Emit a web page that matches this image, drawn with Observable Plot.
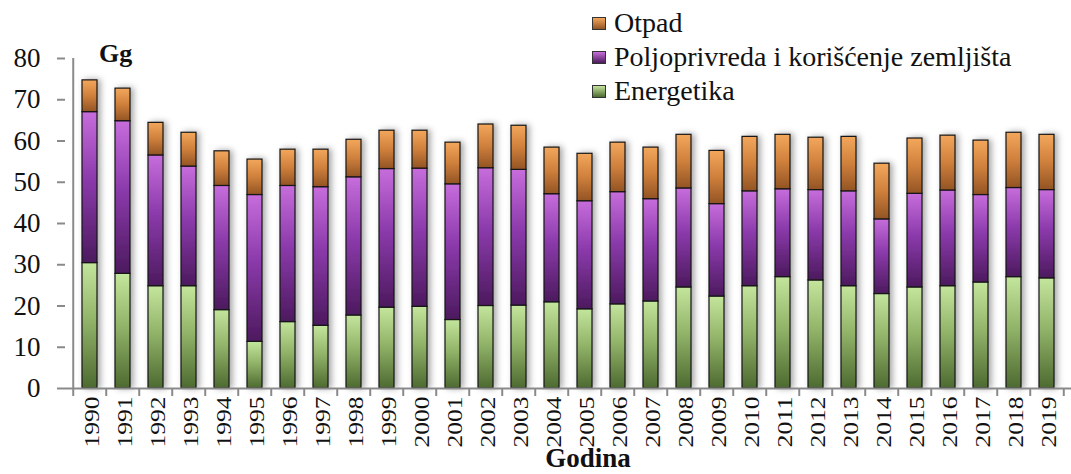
<!DOCTYPE html>
<html>
<head>
<meta charset="utf-8">
<script src="https://cdn.jsdelivr.net/npm/d3@7"></script>
<script src="https://cdn.jsdelivr.net/npm/@observablehq/plot@0.6"></script>
<style>
  html, body { margin: 0; padding: 0; background: #fff; }
  #wrap { position: relative; width: 1071px; height: 474px; font-family: "Liberation Serif", "Times New Roman", serif; color: #111; }
  #legend { position: absolute; left: 592px; top: 6px; font-size: 28px; }
  #legend .row { height: 34px; line-height: 34px; white-space: nowrap; }
  #legend .sw { display: inline-block; width: 14px; height: 13px; margin-right: 8px; position: relative; top: -2px; box-sizing: border-box; border: 1px solid #333; }
  #unit { position: absolute; left: 99px; top: 39px; font-size: 26px; font-weight: bold; line-height: 30px; }
  #xlabel { position: absolute; left: 588px; top: 444px; transform: translateX(-50%); font-size: 27px; font-weight: bold; line-height: 28px; }
  svg text { font-family: "Liberation Serif", "Times New Roman", serif !important; }
</style>
</head>
<body>
<svg width="0" height="0" style="position:absolute">
  <defs>
    <linearGradient id="gE" x1="0" y1="0" x2="0" y2="1">
      <stop offset="0" stop-color="#c4e59c"/>
      <stop offset="0.45" stop-color="#93b56a"/>
      <stop offset="1" stop-color="#4d6a30"/>
    </linearGradient>
    <linearGradient id="gP" x1="0" y1="0" x2="0" y2="1">
      <stop offset="0" stop-color="#c76ddc"/>
      <stop offset="0.45" stop-color="#8b3aab"/>
      <stop offset="1" stop-color="#4c1a5e"/>
    </linearGradient>
    <linearGradient id="gO" x1="0" y1="0" x2="0" y2="1">
      <stop offset="0" stop-color="#f3a75c"/>
      <stop offset="0.5" stop-color="#cf803c"/>
      <stop offset="1" stop-color="#935424"/>
    </linearGradient>
    <filter id="shadow" x="-50%" y="-10%" width="200%" height="120%">
      <feDropShadow dx="3" dy="0" stdDeviation="3" flood-color="#000" flood-opacity="0.35"/>
    </filter>
  </defs>
</svg>
<div id="wrap">
  <div id="chart"></div>
  <div id="unit">Gg</div>
  <div id="xlabel">Godina</div>
  <div id="legend"></div>
</div>
<script>
const years = [1990,1991,1992,1993,1994,1995,1996,1997,1998,1999,2000,2001,2002,2003,2004,2005,2006,2007,2008,2009,2010,2011,2012,2013,2014,2015,2016,2017,2018,2019];
const energetika = [30.4,27.8,24.8,24.8,19.0,11.3,16.1,15.2,17.7,19.6,19.8,16.6,20.0,20.1,20.9,19.2,20.4,21.1,24.5,22.3,24.8,27.0,26.2,24.8,22.9,24.5,24.8,25.7,27.0,26.7];
const poljoprivreda = [36.6,37.0,31.7,29.0,30.1,35.6,33.0,33.6,33.5,33.6,33.5,32.9,33.4,32.9,26.2,26.2,27.2,24.8,24.0,22.4,23.0,21.3,21.9,23.0,18.1,22.7,23.2,21.2,21.6,21.4];
const otpad = [7.7,7.9,7.9,8.2,8.4,8.6,8.8,9.1,9.1,9.3,9.2,10.1,10.6,10.7,11.3,11.5,12.0,12.5,13.0,12.9,13.2,13.2,12.7,13.2,13.5,13.4,13.3,13.2,13.4,13.4];
const seriesNames = ["Energetika", "Poljoprivreda i korišćenje zemljišta", "Otpad"];
const seriesFills = ["url(#gE)", "url(#gP)", "url(#gO)"];
const yTicks = [0,10,20,30,40,50,60,70,80];

const seriesValues = [energetika, poljoprivreda, otpad];
const data = years.flatMap((yr, i) => seriesNames.map((s, k) => ({year: String(yr), series: s, value: seriesValues[k][i]})));

const W = 1071, H = 474, mL = 65, mR = 0, mT = 58, mB = 86;
const step = (W - mL - mR) / years.length;
const yearStr = years.map(String);
const serif = "'Liberation Serif', 'Times New Roman', serif";

const chart = Plot.plot({
  width: W, height: H,
  marginLeft: mL, marginRight: mR, marginTop: mT, marginBottom: mB,
  style: {fontFamily: serif, background: "transparent", color: "#111", overflow: "visible"},
  x: {domain: yearStr, paddingInner: 0.55, paddingOuter: 0.275, axis: null},
  y: {domain: [0, 80], axis: null},
  color: {type: "ordinal", domain: seriesNames, range: seriesFills},
  marks: [
    Plot.axisY(yTicks, {tickSize: 8, tickPadding: 17, fontSize: 27, fontFamily: serif, stroke: "#8a8a8a", strokeWidth: 2, fill: "#111", label: null}),
    Plot.ruleX([yearStr[0]], {y1: 0, y2: 80, dx: -step / 2, stroke: "#8a8a8a", strokeWidth: 2}),
    Plot.axisX(yearStr, {tickSize: 8, tickFormat: () => "", dx: -step / 2, stroke: "#8a8a8a", strokeWidth: 2, label: null}),
    Plot.axisX([yearStr[yearStr.length - 1]], {tickSize: 8, tickFormat: () => "", dx: step / 2, stroke: "#8a8a8a", strokeWidth: 2, label: null}),
    Plot.axisX(yearStr, {tickSize: 0, tickPadding: 8, tickRotate: -90, fontSize: 21, fontFamily: serif, dx: 2, fill: "#111", label: null}),
    Plot.barY(data, {x: "year", y: "value", fill: "series", stroke: "#151515", strokeWidth: 1.2}),
    Plot.ruleY([0], {stroke: "#8a8a8a", strokeWidth: 2})
  ]
});
document.getElementById("chart").appendChild(chart);

// shadow on bars
const barG = chart.querySelector('g[aria-label="bar"]');
if (barG) barG.setAttribute("filter", "url(#shadow)");
// serif text everywhere; stretch year labels (wide figures in the original)
chart.querySelectorAll('text').forEach(t => {
  t.setAttribute("font-family", "Liberation Serif");
  t.style.fontFamily = "'Liberation Serif', serif";
  if (/^\d{4}$/.test(t.textContent.trim())) {
    t.setAttribute("textLength", 51);
    t.setAttribute("lengthAdjust", "spacingAndGlyphs");
  }
});

// legend (top to bottom: Otpad, Poljoprivreda, Energetika)
const legend = document.getElementById("legend");
[2, 1, 0].forEach(k => {
  const row = document.createElement("div");
  row.className = "row";
  const sw = document.createElement("span");
  sw.className = "sw";
  const c = [["#c4e59c", "#4d6a30"], ["#c76ddc", "#4c1a5e"], ["#f3a75c", "#935424"]][k];
  sw.style.background = `linear-gradient(${c[0]}, ${c[1]})`;
  row.appendChild(sw);
  row.appendChild(document.createTextNode(seriesNames[k]));
  legend.appendChild(row);
});
</script>
</body>
</html>
